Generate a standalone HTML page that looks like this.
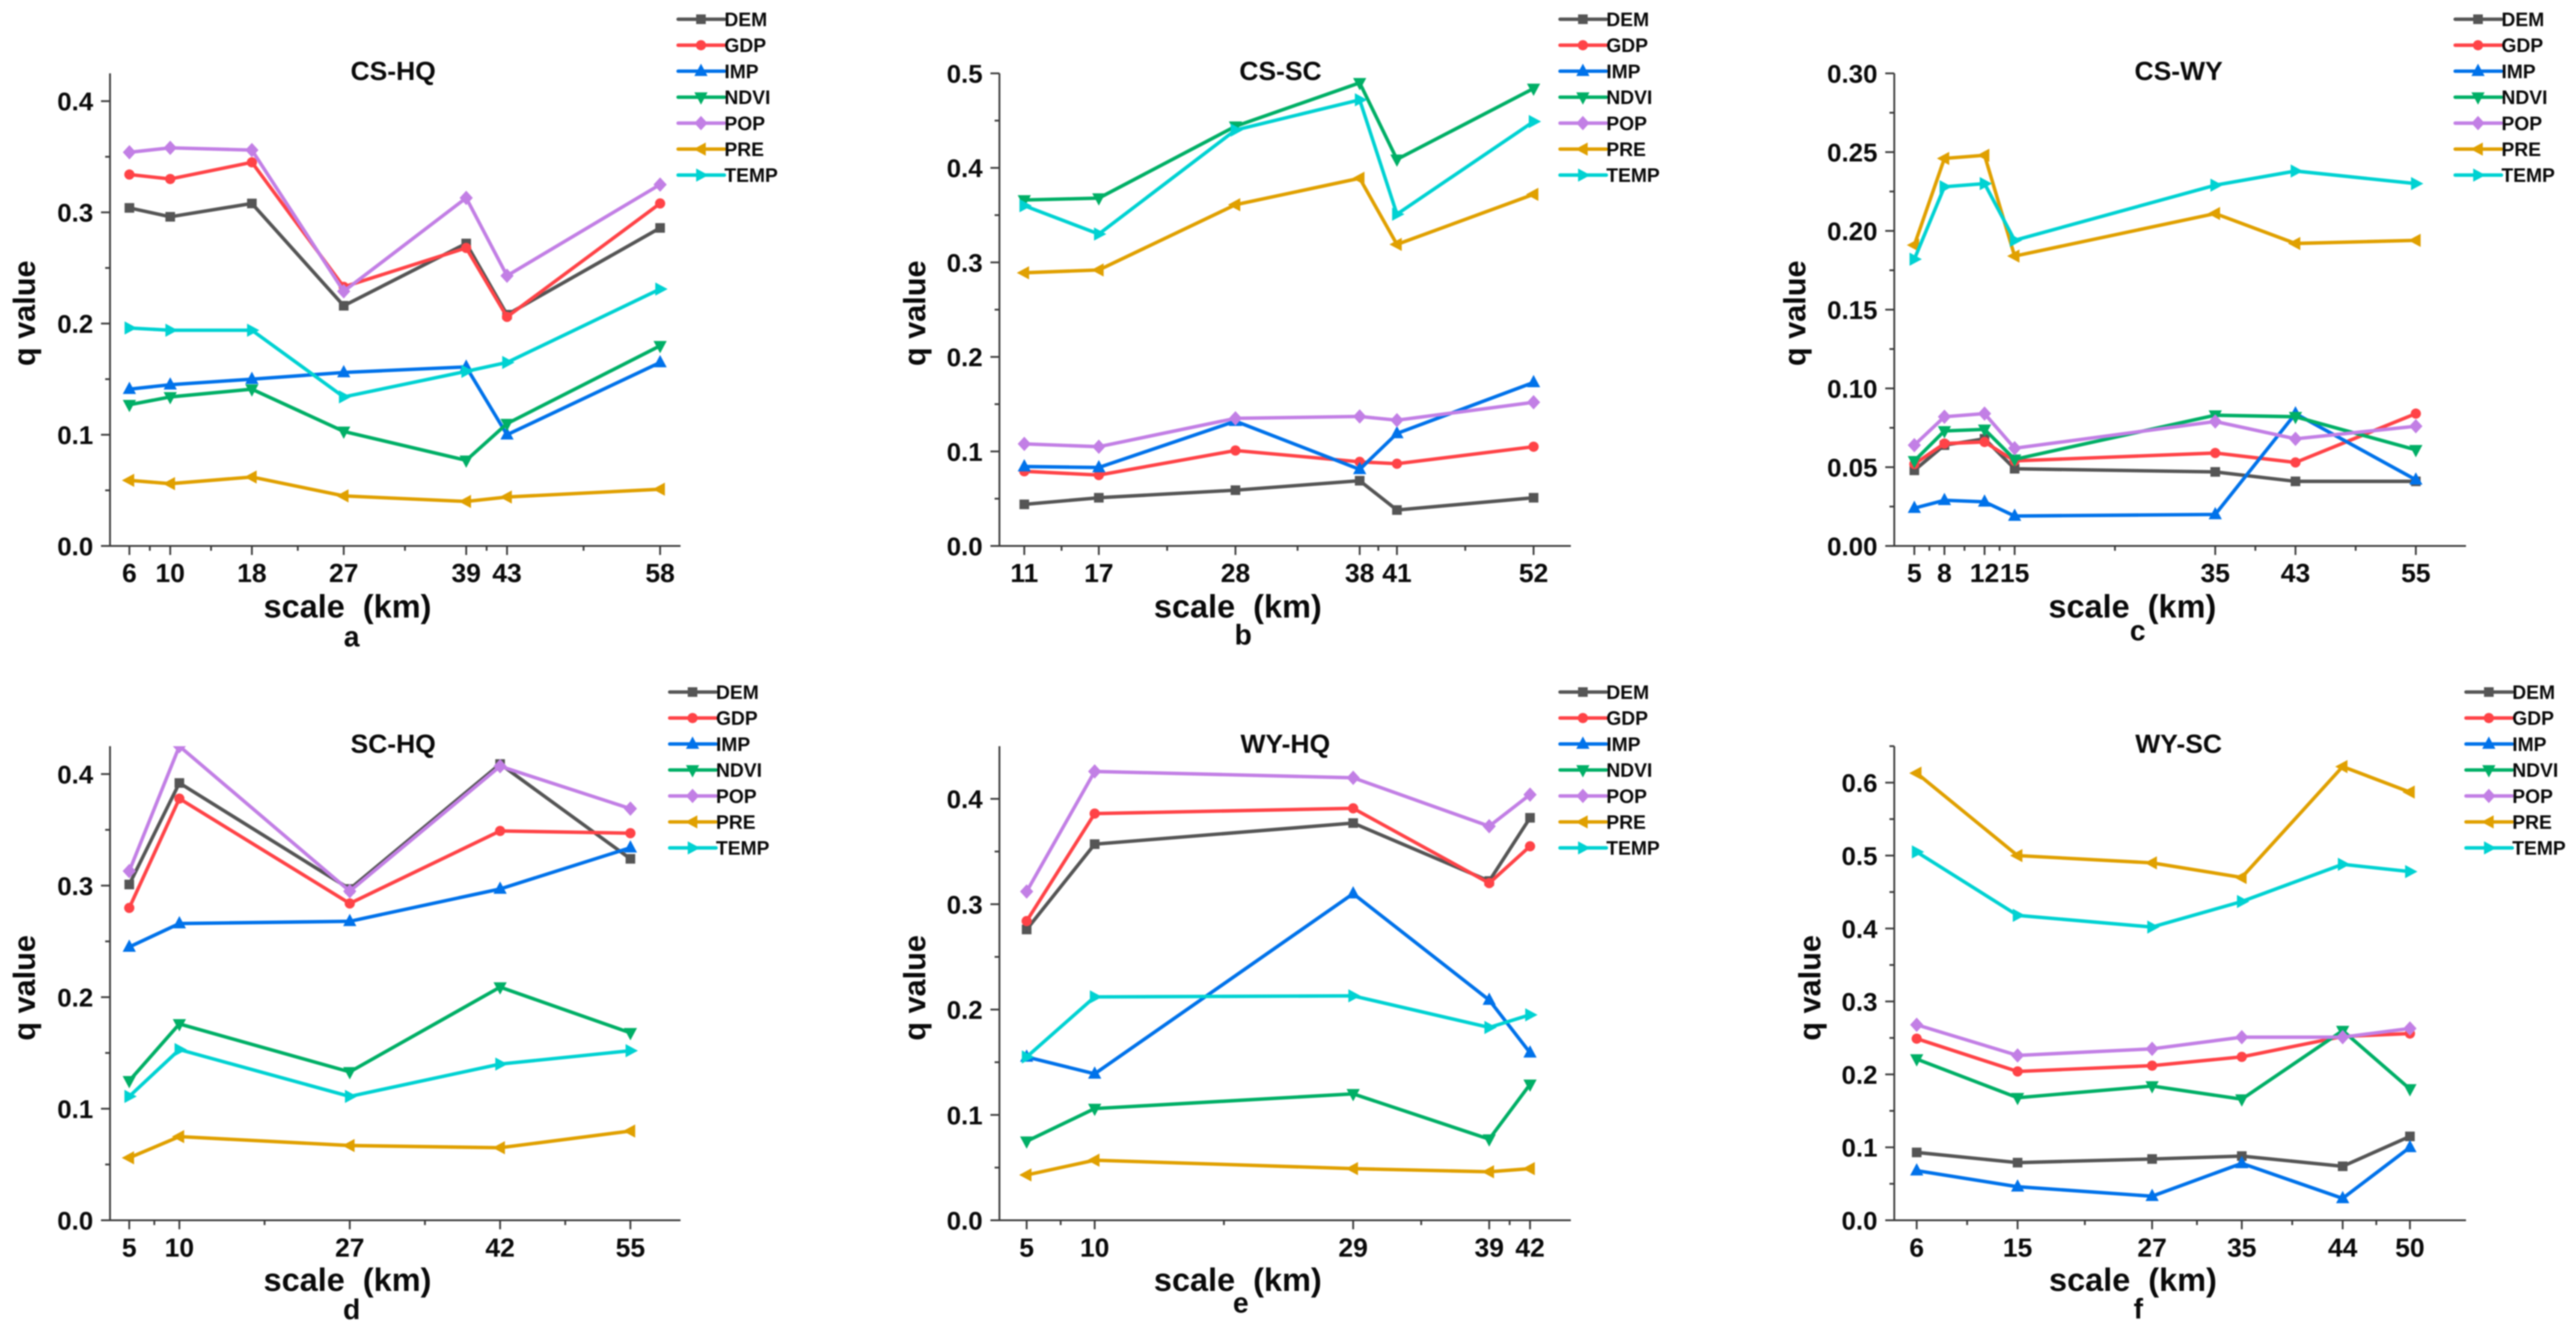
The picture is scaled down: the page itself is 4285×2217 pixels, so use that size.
<!DOCTYPE html>
<html lang="en">
<head>
<meta charset="utf-8">
<title>q value by scale</title>
<style>
  html, body { margin: 0; padding: 0; background: #fff; }
  body { width: 4285px; height: 2217px; overflow: hidden; }
  #figure { display: block; filter: blur(1.1px); }
  text { font-family: "Liberation Sans", Arial, sans-serif; font-weight: bold; fill: #0a0a0a; }
</style>
</head>
<body>
<svg id="figure" xmlns="http://www.w3.org/2000/svg" width="4285" height="2217" viewBox="0 0 4285 2217"></svg>
<script>
const seriesNames = ['DEM', 'GDP', 'IMP', 'NDVI', 'POP', 'PRE', 'TEMP'];
const seriesColors = ['#555555', '#ff4347', '#0072ea', '#00af66', '#c27fe5', '#e0a000', '#00d2d2'];
const seriesMarkers = ['square', 'circle', 'up', 'down', 'diamond', 'left', 'right'];

const csHqScales = [6, 10, 18, 27, 39, 43, 58];
const csHqYTicks = [0, 0.1, 0.2, 0.3, 0.4];
const csHqDEM = [0.304, 0.296, 0.308, 0.216, 0.272, 0.208, 0.286];
const csHqGDP = [0.334, 0.330, 0.345, 0.233, 0.268, 0.206, 0.308];
const csHqIMP = [0.141, 0.145, 0.150, 0.156, 0.161, 0.100, 0.165];
const csHqNDVI = [0.127, 0.134, 0.141, 0.103, 0.077, 0.110, 0.180];
const csHqPOP = [0.354, 0.358, 0.356, 0.229, 0.313, 0.243, 0.325];
const csHqPRE = [0.059, 0.056, 0.062, 0.045, 0.040, 0.044, 0.051];
const csHqTEMP = [0.196, 0.194, 0.194, 0.134, 0.157, 0.165, 0.231];

const csScScales = [11, 17, 28, 38, 41, 52];
const csScYTicks = [0, 0.1, 0.2, 0.3, 0.4, 0.5];
const csScDEM = [0.044, 0.051, 0.059, 0.069, 0.038, 0.051];
const csScGDP = [0.079, 0.075, 0.101, 0.089, 0.087, 0.105];
const csScIMP = [0.084, 0.083, 0.132, 0.081, 0.119, 0.173];
const csScNDVI = [0.366, 0.368, 0.444, 0.490, 0.409, 0.484];
const csScPOP = [0.108, 0.105, 0.135, 0.137, 0.133, 0.152];
const csScPRE = [0.289, 0.292, 0.361, 0.389, 0.319, 0.372];
const csScTEMP = [0.360, 0.330, 0.440, 0.472, 0.351, 0.449];

const csWyScales = [5, 8, 12, 15, 35, 43, 55];
const csWyYTicks = [0, 0.05, 0.10, 0.15, 0.20, 0.25, 0.30];
const csWyDEM = [0.048, 0.064, 0.068, 0.049, 0.047, 0.041, 0.041];
const csWyGDP = [0.052, 0.065, 0.066, 0.054, 0.059, 0.053, 0.084];
const csWyIMP = [0.024, 0.029, 0.028, 0.019, 0.020, 0.084, 0.042];
const csWyNDVI = [0.054, 0.073, 0.074, 0.055, 0.083, 0.082, 0.061];
const csWyPOP = [0.064, 0.082, 0.084, 0.062, 0.079, 0.068, 0.076];
const csWyPRE = [0.191, 0.246, 0.248, 0.184, 0.211, 0.192, 0.194];
const csWyTEMP = [0.182, 0.228, 0.230, 0.194, 0.229, 0.238, 0.230];

const scHqScales = [5, 10, 27, 42, 55];
const scHqYTicks = [0, 0.1, 0.2, 0.3, 0.4];
const scHqDEM = [0.301, 0.392, 0.297, 0.409, 0.324];
const scHqGDP = [0.280, 0.378, 0.284, 0.349, 0.347];
const scHqIMP = [0.245, 0.266, 0.268, 0.297, 0.334];
const scHqNDVI = [0.125, 0.176, 0.133, 0.209, 0.168];
const scHqPOP = [0.313, 0.425, 0.295, 0.407, 0.369];
const scHqPRE = [0.056, 0.075, 0.067, 0.065, 0.080];
const scHqTEMP = [0.111, 0.153, 0.111, 0.140, 0.152];

const wyHqScales = [5, 10, 29, 39, 42];
const wyHqYTicks = [0, 0.1, 0.2, 0.3, 0.4];
const wyHqDEM = [0.276, 0.357, 0.377, 0.322, 0.382];
const wyHqGDP = [0.284, 0.386, 0.391, 0.320, 0.355];
const wyHqIMP = [0.155, 0.139, 0.310, 0.209, 0.159];
const wyHqNDVI = [0.075, 0.106, 0.120, 0.077, 0.129];
const wyHqPOP = [0.312, 0.426, 0.420, 0.374, 0.404];
const wyHqPRE = [0.043, 0.057, 0.049, 0.046, 0.049];
const wyHqTEMP = [0.155, 0.212, 0.213, 0.183, 0.195];

const wyScScales = [6, 15, 27, 35, 44, 50];
const wyScYTicks = [0, 0.1, 0.2, 0.3, 0.4, 0.5, 0.6];
const wyScDEM = [0.093, 0.079, 0.084, 0.088, 0.074, 0.115];
const wyScGDP = [0.249, 0.204, 0.212, 0.224, 0.252, 0.256];
const wyScIMP = [0.068, 0.046, 0.033, 0.078, 0.030, 0.100];
const wyScNDVI = [0.221, 0.168, 0.184, 0.166, 0.260, 0.180];
const wyScPOP = [0.268, 0.226, 0.235, 0.251, 0.251, 0.263];
const wyScPRE = [0.613, 0.500, 0.490, 0.470, 0.622, 0.587];
const wyScTEMP = [0.505, 0.418, 0.402, 0.437, 0.488, 0.478];

const TOP_ROW = { top: 122, bottom: 908, xTickBase: 968, xLabelBase: 1027, titleBase: 133, legendY: 32 };
const BOTTOM_ROW = { top: 1241, bottom: 2029.5, xTickBase: 2090, xLabelBase: 2147, titleBase: 1252, legendY: 1151 };

const panels = [
  { key: 'cs-hq', title: 'CS-HQ', letter: 'a', row: TOP_ROW, left: 183, right: 1132, xMin: 4.1, xMax: 60, yMax: 0.425, decimals: 1,
    scales: csHqScales, yTicks: csHqYTicks, series: [csHqDEM, csHqGDP, csHqIMP, csHqNDVI, csHqPOP, csHqPRE, csHqTEMP],
    yLabelX: 58, yLabelY: 521, titleX: 654, xLabelX: 578, letterX: 585, letterBase: 1075, legendX: 1128 },
  { key: 'cs-sc', title: 'CS-SC', letter: 'b', row: TOP_ROW, left: 1662.5, right: 2613, xMin: 9, xMax: 55, yMax: 0.5, decimals: 1,
    scales: csScScales, yTicks: csScYTicks, series: [csScDEM, csScGDP, csScIMP, csScNDVI, csScPOP, csScPRE, csScTEMP],
    yLabelX: 1539, yLabelY: 521, titleX: 2130, xLabelX: 2059, letterX: 2068, letterBase: 1072, legendX: 2595 },
  { key: 'cs-wy', title: 'CS-WY', letter: 'c', row: TOP_ROW, left: 3151, right: 4102, xMin: 3, xMax: 60, yMax: 0.30, decimals: 2,
    scales: csWyScales, yTicks: csWyYTicks, series: [csWyDEM, csWyGDP, csWyIMP, csWyNDVI, csWyPOP, csWyPRE, csWyTEMP],
    yLabelX: 3003, yLabelY: 521, titleX: 3624, xLabelX: 3547, letterX: 3556, letterBase: 1065, legendX: 4084 },
  { key: 'sc-hq', title: 'SC-HQ', letter: 'd', row: BOTTOM_ROW, left: 183, right: 1132, xMin: 3.08, xMax: 60, yMax: 0.425, decimals: 1,
    scales: scHqScales, yTicks: scHqYTicks, series: [scHqDEM, scHqGDP, scHqIMP, scHqNDVI, scHqPOP, scHqPRE, scHqTEMP],
    yLabelX: 58, yLabelY: 1643, titleX: 654, xLabelX: 578, letterX: 585, letterBase: 2194, legendX: 1114 },
  { key: 'wy-hq', title: 'WY-HQ', letter: 'e', row: BOTTOM_ROW, left: 1662.5, right: 2613, xMin: 3, xMax: 45, yMax: 0.45, decimals: 1,
    scales: wyHqScales, yTicks: wyHqYTicks, series: [wyHqDEM, wyHqGDP, wyHqIMP, wyHqNDVI, wyHqPOP, wyHqPRE, wyHqTEMP],
    yLabelX: 1539, yLabelY: 1643, titleX: 2138, xLabelX: 2059, letterX: 2064, letterBase: 2183, legendX: 2595 },
  { key: 'wy-sc', title: 'WY-SC', letter: 'f', row: BOTTOM_ROW, left: 3151, right: 4102, xMin: 4, xMax: 55, yMax: 0.65, decimals: 1,
    scales: wyScScales, yTicks: wyScYTicks, series: [wyScDEM, wyScGDP, wyScIMP, wyScNDVI, wyScPOP, wyScPRE, wyScTEMP],
    yLabelX: 3028, yLabelY: 1643, titleX: 3624, xLabelX: 3548, letterX: 3557, letterBase: 2193, legendX: 4102 }
];

const SVG_NS = 'http://www.w3.org/2000/svg';
const AXIS_COLOR = '#3a3a3a';
const figure = document.getElementById('figure');

function make(tag, parent, props) {
  const el = document.createElementNS(SVG_NS, tag);
  for (const k in props) el.setAttribute(k, props[k]);
  parent.appendChild(el);
  return el;
}

function makeText(parent, str, props) {
  const el = make('text', parent, props);
  el.textContent = str;
  return el;
}

function markerPoints(type, cx, cy) {
  const tip = 12.5, base = 8, half = 11;
  const shapes = {
    up: [[0, -tip], [-half, base], [half, base]],
    down: [[0, tip], [-half, -base], [half, -base]],
    left: [[-tip, 0], [base, -half], [base, half]],
    right: [[tip, 0], [-base, -half], [-base, half]],
    diamond: [[0, -12], [11, 0], [0, 12], [-11, 0]]
  };
  return shapes[type].map(function (p) { return (cx + p[0]) + ',' + (cy + p[1]); }).join(' ');
}

function drawMarker(parent, type, cx, cy, color) {
  if (type === 'square') {
    return make('rect', parent, { x: cx - 8, y: cy - 8, width: 16, height: 16, fill: color });
  }
  if (type === 'circle') {
    return make('circle', parent, { cx: cx, cy: cy, r: 8.5, fill: color });
  }
  return make('polygon', parent, { points: markerPoints(type, cx, cy), fill: color });
}

function drawPanel(panel) {
  const row = panel.row;
  const xAt = function (v) { return panel.left + (v - panel.xMin) / (panel.xMax - panel.xMin) * (panel.right - panel.left); };
  const yAt = function (v) { return row.bottom - v / panel.yMax * (row.bottom - row.top); };

  const g = make('g', figure, {});
  
  

  const clip = make('clipPath', g, { id: 'clip-' + panel.key });
  make('rect', clip, { x: panel.left - 60, y: row.top, width: panel.right - panel.left + 120, height: row.bottom - row.top + 30 });

  // y axis
  const yAxis = make('g', g, { stroke: AXIS_COLOR, 'stroke-width': 3 });
  
  
  make('line', yAxis, { x1: panel.left, x2: panel.left, y1: row.top, y2: row.bottom + 1.5 });
  panel.yTicks.forEach(function (t, i) {
    const y = yAt(t);
    const tick = make('line', yAxis, { x1: panel.left - 15, x2: panel.left, y1: y, y2: y });
    
    
    const mid = i < panel.yTicks.length - 1 ? (t + panel.yTicks[i + 1]) / 2 : t + (t - panel.yTicks[i - 1]) / 2;
    if (mid < panel.yMax) {
      const yMid = yAt(mid);
      const minor = make('line', yAxis, { x1: panel.left - 8, x2: panel.left, y1: yMid, y2: yMid });
      
      
    }
    const label = makeText(g, t.toFixed(panel.decimals), { x: panel.left - 28, y: y + 15.5, 'text-anchor': 'end', 'font-size': 43 });
    
    
  });

  // x axis
  const xAxis = make('g', g, { stroke: AXIS_COLOR, 'stroke-width': 3 });
  
  
  make('line', xAxis, { x1: panel.left - 15, x2: panel.right, y1: row.bottom, y2: row.bottom });
  panel.scales.forEach(function (s, i) {
    const x = xAt(s);
    const tick = make('line', xAxis, { x1: x, x2: x, y1: row.bottom, y2: row.bottom + 15 });
    
    
    if (i < panel.scales.length - 1) {
      const xMid = xAt((s + panel.scales[i + 1]) / 2);
      const minor = make('line', xAxis, { x1: xMid, x2: xMid, y1: row.bottom, y2: row.bottom + 8 });
      
      
    }
    const label = makeText(g, String(s), { x: x, y: row.xTickBase, 'text-anchor': 'middle', 'font-size': 44 });
    
    
  });

  // series
  const plot = make('g', g, { 'clip-path': 'url(#clip-' + panel.key + ')' });
  
  
  panel.series.forEach(function (values, si) {
    const color = seriesColors[si];
    const sg = make('g', plot, {});
    
    
    const pts = values.map(function (v, i) { return xAt(panel.scales[i]) + ',' + yAt(v); }).join(' ');
    const line = make('polyline', sg, { points: pts, fill: 'none', stroke: color, 'stroke-width': 5.8, 'stroke-linejoin': 'round', 'stroke-linecap': 'round' });
    
    
    values.forEach(function (v, i) {
      const m = drawMarker(sg, seriesMarkers[si], xAt(panel.scales[i]), yAt(v), color);
      
      
    });
  });

  // titles
  const title = makeText(g, panel.title, { x: panel.titleX, y: row.titleBase, 'text-anchor': 'middle', 'font-size': 44 });
  
  

  const yTitle = makeText(g, 'q value', { x: 0, y: 0, 'text-anchor': 'middle', 'font-size': 51, transform: 'translate(' + panel.yLabelX + ',' + panel.yLabelY + ') rotate(-90)' });
  
  

  const xTitle = makeText(g, 'scale\u00A0\u00A0(km)', { x: panel.xLabelX, y: row.xLabelBase, 'text-anchor': 'middle', 'font-size': 54 });
  
  

  const letter = makeText(g, panel.letter, { x: panel.letterX, y: panel.letterBase, 'text-anchor': 'middle', 'font-size': 47 });
  
  

  // legend
  const legend = make('g', g, {});
  
  
  seriesNames.forEach(function (name, si) {
    const y = row.legendY + si * 43.2;
    const entry = make('g', legend, {});
    
    
    make('line', entry, { x1: panel.legendX, x2: panel.legendX + 77, y1: y, y2: y, stroke: seriesColors[si], 'stroke-width': 5.8, 'stroke-linecap': 'round' });
    drawMarker(entry, seriesMarkers[si], panel.legendX + 38, y, seriesColors[si]);
    makeText(entry, name, { x: panel.legendX + 77, y: y + 11.5, 'font-size': 32 });
  });
}

panels.forEach(drawPanel);
</script>
</body>
</html>
